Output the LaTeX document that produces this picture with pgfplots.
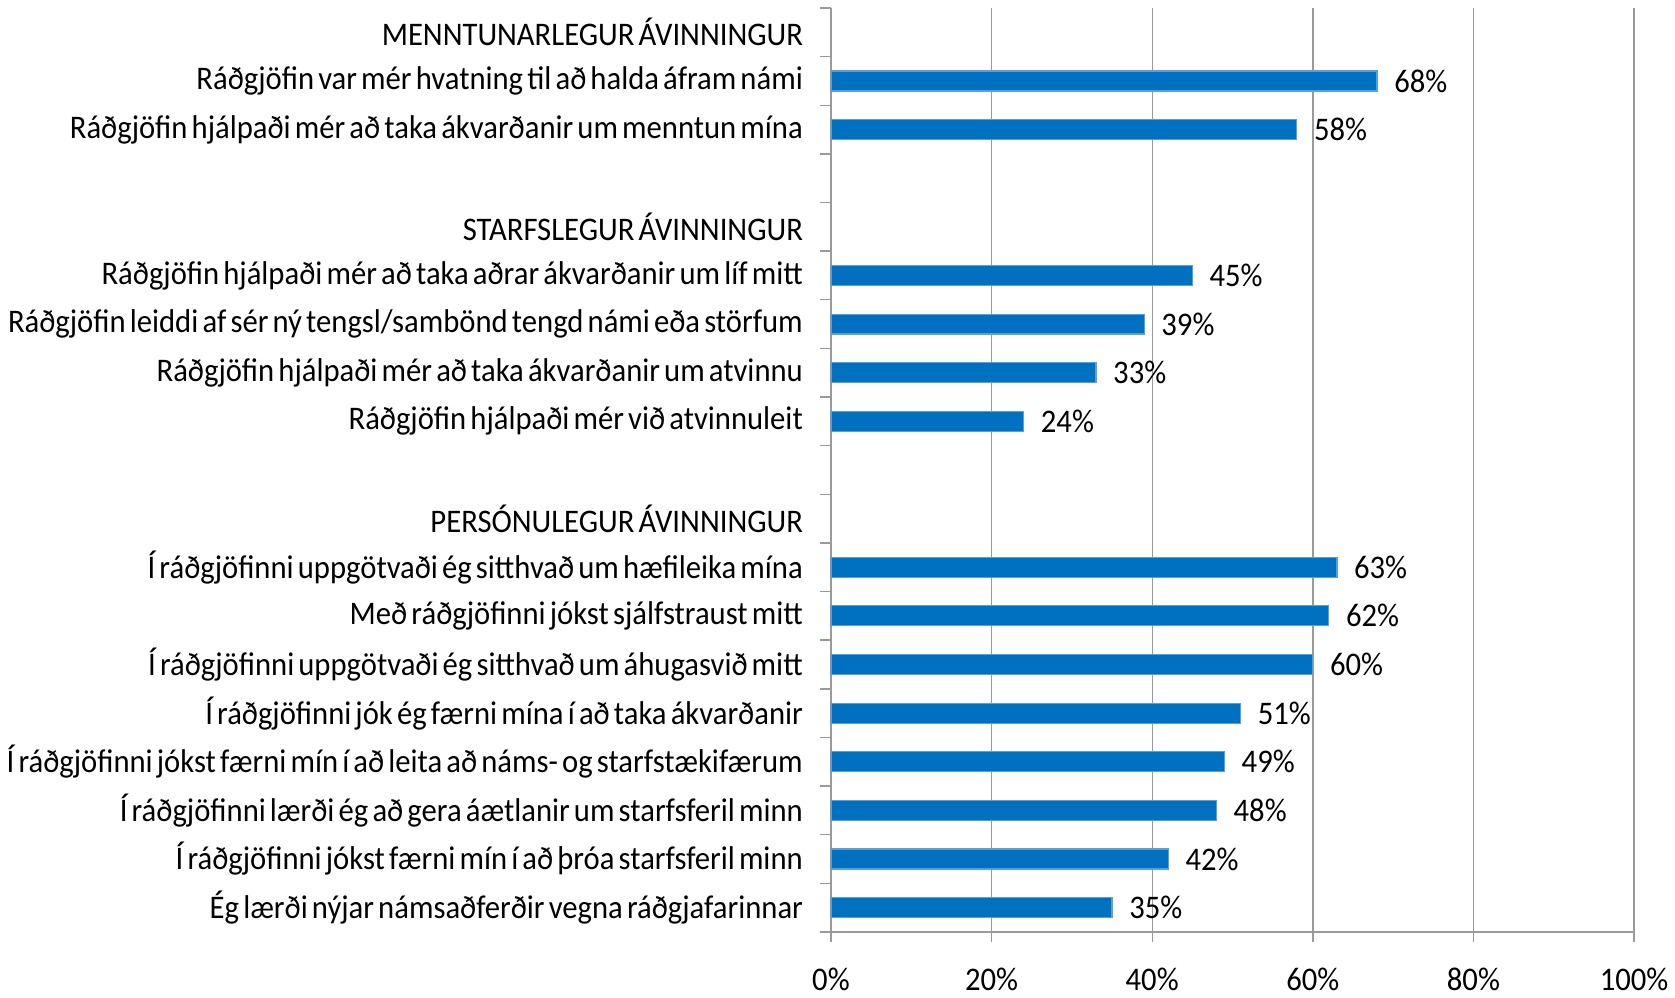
\documentclass[border=0pt]{standalone}
\usepackage{fontspec}
\setmainfont{Carlito}[FakeStretch=0.93, WordSpace=0.6]
\usepackage{pgfplots}
\pgfplotsset{compat=1.18}
\definecolor{barblue}{HTML}{0070C0}
\definecolor{baredge}{HTML}{5A9FD6}
\definecolor{gridgray}{HTML}{9A9A9A}

\begin{document}
\begin{tikzpicture}
\begin{axis}[
  width=402pt, height=462.5pt, scale only axis,
  xbar, bar width=10pt,
  xmin=0, xmax=100, ymin=0.5, ymax=19.5, y dir=reverse,
  xtick={0,20,40,60,80,100},
  xticklabel={\pgfmathprintnumber{\tick}\%},
  /pgf/number format/assume math mode=true,
  xticklabel style={yshift=-9.5pt},
  ytick={1,...,19},
  yticklabels={
    MENNTUNARLEGUR ÁVINNINGUR,
    Ráðgjöfin var mér hvatning til að halda áfram námi,
    Ráðgjöfin hjálpaði mér að taka ákvarðanir um menntun mína,
    {},
    STARFSLEGUR ÁVINNINGUR,
    Ráðgjöfin hjálpaði mér að taka aðrar ákvarðanir um líf mitt,
    Ráðgjöfin leiddi af sér ný tengsl/sambönd tengd námi eða störfum,
    Ráðgjöfin hjálpaði mér að taka ákvarðanir um atvinnu,
    Ráðgjöfin hjálpaði mér við atvinnuleit,
    {},
    PERSÓNULEGUR ÁVINNINGUR,
    Í ráðgjöfinni uppgötvaði ég sitthvað um hæfileika mína,
    Með ráðgjöfinni jókst sjálfstraust mitt,
    Í ráðgjöfinni uppgötvaði ég sitthvað um áhugasvið mitt,
    Í ráðgjöfinni jók ég færni mína í að taka ákvarðanir,
    Í ráðgjöfinni jókst færni mín í að leita að náms- og starfstækifærum,
    Í ráðgjöfinni lærði ég að gera áætlanir um starfsferil minn,
    Í ráðgjöfinni jókst færni mín í að þróa starfsferil minn,
    Ég lærði nýjar námsaðferðir vegna ráðgjafarinnar},
  yticklabel style={xshift=-5.5pt},
  minor ytick={0.5,1.5,2.5,3.5,4.5,5.5,6.5,7.5,8.5,9.5,10.5,11.5,12.5,13.5,14.5,15.5,16.5,17.5,18.5,19.5},
  every major y tick/.style={draw=none},
  tick align=outside,
  major tick length=5pt, minor tick length=5.5pt,
  tick style={gridgray, line width=0.7pt},
  xmajorgrids, major grid style={gridgray, line width=0.7pt},
  axis x line*=bottom, axis y line*=left,
  axis line style={gridgray, line width=0.7pt},
  font=\fontsize{16.5pt}{19pt}\selectfont,
  nodes near coords={\pgfmathprintnumber{\pgfplotspointmeta}\%},
  nodes near coords style={anchor=west, xshift=5pt, text=black},
  point meta=x,
]
\addplot[fill=barblue, draw=baredge, line width=0.6pt] coordinates {
  (68,2) (58,3)
  (45,6) (39,7) (33,8) (24,9)
  (63,12) (62,13) (60,14) (51,15) (49,16) (48,17) (42,18) (35,19)
};
\end{axis}
\path ([yshift=4pt]current axis.north);
\end{tikzpicture}
\end{document}
